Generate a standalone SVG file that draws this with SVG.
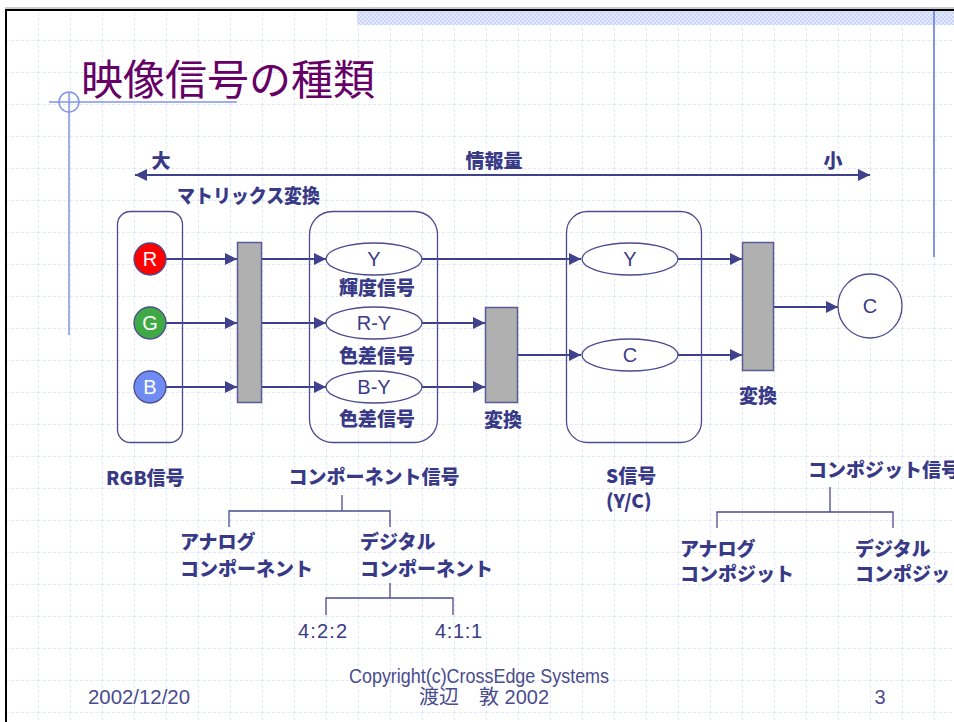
<svg xmlns="http://www.w3.org/2000/svg" width="954" height="722" viewBox="0 0 954 722">
<defs>
<pattern id="grid" patternUnits="userSpaceOnUse" x="6" y="8" width="32" height="32">
<path d="M0.5,0 V32" stroke="#E2E8F8" stroke-width="1" stroke-dasharray="3,2" fill="none"/>
<path d="M0,0.5 H32" stroke="#E2E8F8" stroke-width="1" stroke-dasharray="3,2" fill="none"/>
</pattern>
<pattern id="hatch" patternUnits="userSpaceOnUse" x="0" y="0" width="4" height="4">
<rect width="4" height="4" fill="#E4EAFC"/>
<rect x="0" y="0" width="2" height="2" fill="#C9D5F8"/>
<rect x="2" y="2" width="2" height="2" fill="#C9D5F8"/>
</pattern>
<marker id="arr" viewBox="0 0 12 12" refX="12" refY="6" markerWidth="12" markerHeight="12" markerUnits="userSpaceOnUse" orient="auto-start-reverse">
<path d="M0,0 L12,6 L0,12 z" fill="#3F418C"/>
</marker>
<style>
.jp{font-family:"Noto Sans CJK JP","Noto Sans CJK SC",sans-serif;font-weight:900;font-size:19px;fill:#383A88;}
.lat{font-family:"Liberation Sans","Noto Sans",sans-serif;font-size:20px;fill:#3A3C8A;}
.ft{font-family:"Liberation Sans","Noto Sans CJK JP",sans-serif;font-size:20px;fill:#4A4C8E;}
.box{fill:none;stroke:#4A4C8E;stroke-width:1.3;}
.ell{fill:#FFFFFF;stroke:#4A4C8E;stroke-width:1.3;}
.bar{fill:#B0B0B0;stroke:#5A5C98;stroke-width:1.5;}
.ln{fill:none;stroke:#3F418C;stroke-width:2;}
.tr{fill:none;stroke:#4A4C8E;stroke-width:1.3;}
.cl{font-family:"Liberation Sans","Noto Sans",sans-serif;font-size:20px;fill:#FFFFFF;}
</style>
</defs>
<rect width="954" height="722" fill="#FFFFFF"/>
<rect x="6" y="9" width="948" height="713" fill="url(#grid)"/>
<rect x="357" y="11" width="597" height="14" fill="url(#hatch)"/>
<line x1="5" y1="8" x2="954" y2="8" stroke="#999999" stroke-width="1"/>
<line x1="5" y1="10" x2="954" y2="10" stroke="#000000" stroke-width="2"/>
<line x1="6" y1="9" x2="6" y2="722" stroke="#000000" stroke-width="2"/>
<g id="decor" fill="none" stroke="#8095E8" stroke-width="1.5">
<line x1="49" y1="102" x2="237" y2="102"/>
<line x1="69" y1="92" x2="69" y2="335"/>
<circle cx="69" cy="102" r="10"/>
<line x1="934" y1="11" x2="934" y2="257" stroke-width="2"/>
</g>
<text id="title" x="81" y="95" font-family="Noto Sans CJK JP, Noto Sans CJK SC, sans-serif" font-size="42" fill="#660066">映像信号の種類</text>

<g id="connectors">
<line class="ln" x1="135" y1="175" x2="870" y2="175" marker-start="url(#arr)" marker-end="url(#arr)"/>
<line class="ln" x1="166" y1="259" x2="237" y2="259" marker-end="url(#arr)"/>
<line class="ln" x1="166" y1="323" x2="237" y2="323" marker-end="url(#arr)"/>
<line class="ln" x1="166" y1="387" x2="237" y2="387" marker-end="url(#arr)"/>
<line class="ln" x1="262" y1="259" x2="326" y2="259" marker-end="url(#arr)"/>
<line class="ln" x1="262" y1="323" x2="326" y2="323" marker-end="url(#arr)"/>
<line class="ln" x1="262" y1="387" x2="326" y2="387" marker-end="url(#arr)"/>
<line class="ln" x1="422" y1="259" x2="581" y2="259" marker-end="url(#arr)"/>
<line class="ln" x1="422" y1="323" x2="485" y2="323" marker-end="url(#arr)"/>
<line class="ln" x1="422" y1="387" x2="485" y2="387" marker-end="url(#arr)"/>
<line class="ln" x1="518" y1="355" x2="581" y2="355" marker-end="url(#arr)"/>
<line class="ln" x1="678" y1="259" x2="742" y2="259" marker-end="url(#arr)"/>
<line class="ln" x1="678" y1="355" x2="742" y2="355" marker-end="url(#arr)"/>
<line class="ln" x1="774" y1="307" x2="838" y2="307" marker-end="url(#arr)"/>
<path class="tr" d="M342,495 V511 M229,527 V511 H390 V527"/>
<path class="tr" d="M390,583 V598 M326,615 V598 H453 V615"/>
<path class="tr" d="M830,487 V512 M717,528 V512 H893 V528"/>
</g>

<g id="axis-labels">
<text class="jp" x="161" y="168" text-anchor="middle">大</text>
<text class="jp" x="494" y="168" text-anchor="middle" font-size="20">情報量</text>
<text class="jp" x="833" y="168" text-anchor="middle">小</text>
<text class="jp" x="177" y="203" textLength="143" lengthAdjust="spacingAndGlyphs">マトリックス変換</text>
</g>

<g id="rgb-box"><rect class="box" x="117.5" y="211.5" width="65" height="231" rx="13"/></g>
<g id="node-R"><circle cx="150" cy="259" r="16" fill="#FF0000" stroke="#4A4C8E" stroke-width="1.3"/><text class="cl" x="150" y="266" text-anchor="middle">R</text></g>
<g id="node-G"><circle cx="150" cy="323" r="16" fill="#3FA946" stroke="#4A4C8E" stroke-width="1.3"/><text class="cl" x="150" y="330" text-anchor="middle">G</text></g>
<g id="node-B"><circle cx="150" cy="387" r="16" fill="#6F8CF2" stroke="#4A4C8E" stroke-width="1.3"/><text class="cl" x="150" y="394" text-anchor="middle">B</text></g>
<g id="matrix-bar"><rect class="bar" x="237.5" y="242.5" width="24" height="160"/></g>

<g id="component-box"><rect class="box" x="309.5" y="211.5" width="128" height="231" rx="23"/></g>
<g id="node-Y1"><ellipse class="ell" cx="374" cy="259" rx="48" ry="16"/><text class="lat" x="374" y="266" text-anchor="middle">Y</text><text class="jp" x="377" y="295" text-anchor="middle">輝度信号</text></g>
<g id="node-RY"><ellipse class="ell" cx="374" cy="323" rx="48" ry="16"/><text class="lat" x="374" y="330" text-anchor="middle">R-Y</text><text class="jp" x="377" y="363" text-anchor="middle">色差信号</text></g>
<g id="node-BY"><ellipse class="ell" cx="374" cy="387" rx="48" ry="16"/><text class="lat" x="374" y="394" text-anchor="middle">B-Y</text><text class="jp" x="377" y="426" text-anchor="middle">色差信号</text></g>
<g id="conv-bar1"><rect class="bar" x="485.5" y="307.5" width="32" height="95"/><text class="jp" x="503" y="427" text-anchor="middle">変換</text></g>

<g id="s-box"><rect class="box" x="566.5" y="211.5" width="135" height="231" rx="21"/></g>
<g id="node-Y2"><ellipse class="ell" cx="630" cy="259" rx="48" ry="16"/><text class="lat" x="630" y="266" text-anchor="middle">Y</text></g>
<g id="node-C1"><ellipse class="ell" cx="630" cy="355" rx="48" ry="16"/><text class="lat" x="630" y="362" text-anchor="middle">C</text></g>
<g id="conv-bar2"><rect class="bar" x="742.5" y="242.5" width="31" height="128"/><text class="jp" x="758" y="403" text-anchor="middle">変換</text></g>
<g id="node-C2"><circle cx="870" cy="306" r="32" fill="#FFFFFF" stroke="#4A4C8E" stroke-width="1.3"/><text class="lat" x="870" y="313" text-anchor="middle">C</text></g>

<g id="bottom-labels">
<text class="jp" x="106" y="485">RGB信号</text>
<text class="jp" x="374" y="484" text-anchor="middle">コンポーネント信号</text>
<text class="jp" x="180" y="549">アナログ</text>
<text class="jp" x="180" y="576">コンポーネント</text>
<text class="jp" x="360" y="549">デジタル</text>
<text class="jp" x="360" y="576">コンポーネント</text>
<text class="lat" x="298" y="638" textLength="49" lengthAdjust="spacing">4:2:2</text>
<text class="lat" x="435" y="638" textLength="47" lengthAdjust="spacing">4:1:1</text>
<text class="jp" x="606" y="483">S信号</text>
<text class="jp" x="606" y="508">(Y/C)</text>
<text class="jp" x="808" y="477">コンポジット信号</text>
<text class="jp" x="680" y="556">アナログ</text>
<text class="jp" x="680" y="581">コンポジット</text>
<text class="jp" x="855" y="556">デジタル</text>
<text class="jp" x="855" y="581">コンポジット</text>
</g>

<g id="footer">
<text class="ft" x="88" y="704" textLength="102" lengthAdjust="spacingAndGlyphs">2002/12/20</text>
<text class="ft" x="349" y="683" textLength="260" lengthAdjust="spacingAndGlyphs">Copyright(c)CrossEdge Systems</text>
<text class="ft" x="484" y="704" text-anchor="middle">渡辺　敦 2002</text>
<text class="ft" x="880" y="704" text-anchor="middle">3</text>
</g>
</svg>
